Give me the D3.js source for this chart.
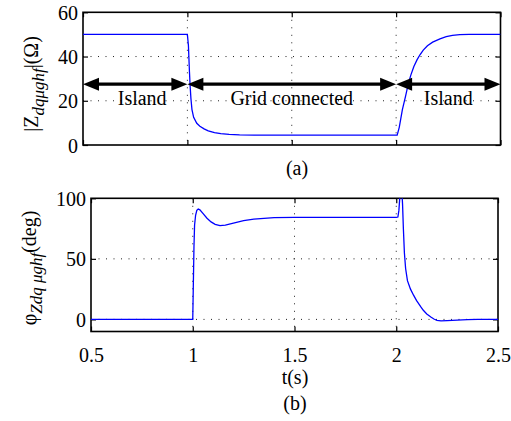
<!DOCTYPE html>
<html>
<head>
<meta charset="utf-8">
<script src="https://cdn.jsdelivr.net/npm/d3@7"></script>
<style>
  html, body { margin: 0; padding: 0; background: #fff; }
  svg { display: block; }
</style>
</head>
<body>
<svg id="chart" width="511" height="421"></svg>
<script>
// Impedance magnitude |Z| over time (s)
const timeMag = [0.5, 0.999, 1.0, 1.005, 1.01, 1.013, 1.017, 1.022, 1.03, 1.045, 1.06, 1.08, 1.1, 1.13, 1.16, 1.2, 1.25, 1.32, 2.0, 2.005,
  2.015, 2.03, 2.045, 2.058, 2.07, 2.085, 2.1, 2.115, 2.13, 2.15, 2.175, 2.21, 2.24, 2.27, 2.305, 2.35, 2.5];
const zMag = [50, 50, 50, 45, 33, 27, 21, 16, 12.5, 9.8, 8.5, 7.3, 6.4, 5.6, 5.1, 4.8, 4.6, 4.5, 4.5, 4.5,
  8, 16, 22, 27.5, 31.5, 35.5, 38.5, 40.9, 42.9, 44.9, 46.5, 48, 49, 49.6, 49.9, 50, 50];

// Impedance phase (deg) over time (s)
const timePhase = [0.5, 1.0, 1.003, 1.006, 1.009, 1.014, 1.02, 1.027, 1.035, 1.05, 1.07, 1.09, 1.11, 1.134, 1.16, 1.2, 1.25, 1.3, 1.35, 1.4, 1.5, 2.0,
  2.008, 2.013, 2.018, 2.022, 2.027, 2.031, 2.035, 2.04, 2.046, 2.055, 2.07, 2.085, 2.1, 2.12, 2.133, 2.15, 2.17, 2.185, 2.2, 2.22, 2.25, 2.3, 2.35, 2.4, 2.5];
const zPhase = [0, 0, 30, 60, 78, 86, 90, 91.2, 90.5, 87.5, 83.5, 80.5, 78.5, 77.5, 77.8, 79.5, 81.5, 82.8, 83.5, 84, 84.2, 84.2,
  84.5, 90, 102, 110, 108, 95, 75, 55, 42, 32, 25, 20, 15.5, 10.5, 7.5, 4.5, 2, 0.3, -0.8, -1.3, -1.1, -0.6, -0.2, 0, 0];

// Axis ticks
const timeTicks = [0.5, 1, 1.5, 2, 2.5];
const magTicks = [0, 20, 40, 60];
const phaseTicks = [0, 50, 100];

// Operating-mode spans drawn as double arrows on the magnitude plot
const modeLabels = ["Island", "Grid connected", "Island"];
const modeStarts = [0.5, 1.0, 2.0];
const modeEnds = [1.0, 2.0, 2.5];
const modeLevel = 27.5;

const SERIF = "'Liberation Serif', serif";
const svg = d3.select("#chart");
const FONT = 20, SUB = 17;

function panel(opts) {
  const { x, y, xs, yTicks, showXLabels } = opts;
  const g = svg.append("g");
  const [x0, x1] = x.range();
  const [y0, y1] = y.range(); // y0 bottom, y1 top
  const w = x1 - x0, h = y0 - y1;

  // dotted grid
  const grid = g.append("g").attr("stroke", "#222").attr("stroke-width", 1)
    .attr("stroke-dasharray", "1,6.5");
  grid.selectAll("line.vx").data(xs.slice(1, -1)).join("line")
    .attr("x1", d => x(d)).attr("x2", d => x(d)).attr("y1", y1).attr("y2", y0);
  grid.selectAll("line.hy").data(yTicks.filter(v => y(v) > y1 + 1 && y(v) < y0 - 1)).join("line")
    .attr("x1", x0).attr("x2", x1).attr("y1", d => y(d)).attr("y2", d => y(d));

  // axes with inward ticks on all four sides
  const ax = (gen, tx, ty, labels) => {
    const a = g.append("g").attr("transform", `translate(${tx},${ty})`).call(gen);
    a.attr("font-size", FONT);
    a.select(".domain").remove();
    a.selectAll(".tick line").attr("stroke", "#000").attr("stroke-width", 1.2);
    a.selectAll("text").attr("fill", "#000");
    if (!labels) a.selectAll("text").remove();
    return a;
  };
  const bottom = ax(d3.axisBottom(x).tickValues(xs).tickSize(-5).tickPadding(11).tickFormat(d3.format("")), 0, y0, showXLabels);
  bottom.selectAll("text").attr("dy", "0.95em");
  ax(d3.axisTop(x).tickValues(xs).tickSize(-5), 0, y1, false);
  ax(d3.axisLeft(y).tickValues(yTicks).tickSize(-5).tickPadding(5).tickFormat(d3.format("")), x0, 0, true)
    .selectAll("text").attr("dy", "0.35em");
  ax(d3.axisRight(y).tickValues(yTicks).tickSize(-5), x1, 0, false);

  g.append("rect").attr("x", x0).attr("y", y1).attr("width", w).attr("height", h)
    .attr("fill", "none").attr("stroke", "#000").attr("stroke-width", 1.6);
  return g;
}

// ---------- (a) magnitude ----------
const xA = d3.scaleLinear().domain([0.5, 2.5]).range([83, 500.5]);
const yA = d3.scaleLinear().domain([0, 60]).range([145, 12.3]);
panel({ x: xA, y: yA, xs: timeTicks, yTicks: magTicks, showXLabels: false });

svg.append("clipPath").attr("id", "clipA").append("rect")
  .attr("x", 83).attr("y", 12.3).attr("width", 417.5).attr("height", 132.7);

svg.append("path")
  .datum(d3.zip(timeMag, zMag))
  .attr("clip-path", "url(#clipA)")
  .attr("fill", "none").attr("stroke", "#0000ff").attr("stroke-width", 1.3)
  .attr("d", d3.line().x(d => xA(d[0])).y(d => yA(d[1])));

// double arrows marking operating modes
const arrowG = svg.append("g");
const headL = 16, headW = 6.5;
modeLabels.forEach((label, i) => {
  const xs0 = xA(modeStarts[i]), xs1 = xA(modeEnds[i]), yy = yA(modeLevel);
  arrowG.append("line").attr("x1", xs0 + headL - 1).attr("x2", xs1 - headL + 1)
    .attr("y1", yy).attr("y2", yy).attr("stroke", "#000").attr("stroke-width", 3.2);
  arrowG.append("path").attr("fill", "#000")
    .attr("d", `M${xs0},${yy} L${xs0 + headL},${yy - headW} L${xs0 + headL},${yy + headW} Z`);
  arrowG.append("path").attr("fill", "#000")
    .attr("d", `M${xs1},${yy} L${xs1 - headL},${yy - headW} L${xs1 - headL},${yy + headW} Z`);
  arrowG.append("text").attr("x", (xs0 + xs1) / 2 + (i === 0 ? 7 : 0)).attr("y", yy + 21)
    .attr("text-anchor", "middle").attr("font-size", FONT).text(label);
});

svg.append("text").attr("x", 297).attr("y", 175).attr("text-anchor", "middle")
  .attr("font-size", FONT).text("(a)");

// y label |Z_dqμghf|(Ω)
const labA = svg.append("text").attr("transform", "translate(38,84) rotate(-90)")
  .attr("text-anchor", "middle").attr("font-size", FONT);
labA.append("tspan").text("|Z");
labA.append("tspan").attr("font-style", "italic").attr("font-size", SUB).attr("dy", 6).text("dqμghf");
labA.append("tspan").attr("dy", -6).text("|(Ω)");

// ---------- (b) phase ----------
const xB = d3.scaleLinear().domain([0.5, 2.5]).range([91, 498]);
const yB = d3.scaleLinear().domain([-10, 100]).range([331.5, 198.3]);
panel({ x: xB, y: yB, xs: timeTicks, yTicks: phaseTicks, showXLabels: true });

svg.append("clipPath").attr("id", "clipB").append("rect")
  .attr("x", 91).attr("y", 198.3).attr("width", 407).attr("height", 133.2);

svg.append("path")
  .datum(d3.zip(timePhase, zPhase))
  .attr("clip-path", "url(#clipB)")
  .attr("fill", "none").attr("stroke", "#0000ff").attr("stroke-width", 1.3)
  .attr("d", d3.line().x(d => xB(d[0])).y(d => yB(d[1])));

svg.append("text").attr("x", 295).attr("y", 384).attr("text-anchor", "middle")
  .attr("font-size", FONT).text("t(s)");
svg.append("text").attr("x", 295).attr("y", 410).attr("text-anchor", "middle")
  .attr("font-size", FONT).text("(b)");

// y label φ_Zdq μghf(deg)
const labB = svg.append("text").attr("transform", "translate(36,268) rotate(-90)")
  .attr("text-anchor", "middle").attr("font-size", FONT);
labB.append("tspan").text("φ");
labB.append("tspan").attr("font-style", "italic").attr("font-size", SUB).attr("dy", 6).text("Zdq μghf");
labB.append("tspan").attr("dy", -6).text("(deg)");

// serif face for every label, axis ticks included
svg.selectAll("g").filter(function () { return this.hasAttribute("font-family"); }).attr("font-family", null);
svg.selectAll("text").style("font-family", SERIF);
</script>
</body>
</html>
